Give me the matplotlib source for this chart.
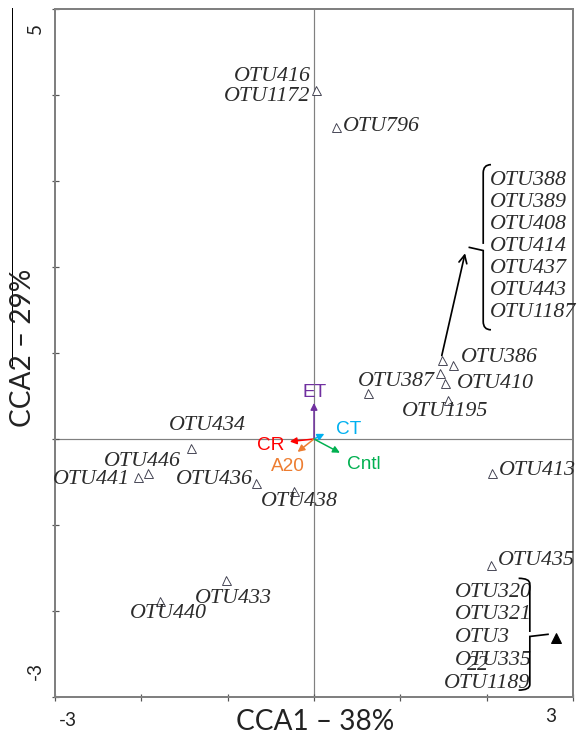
import numpy as np
import matplotlib
matplotlib.use("Agg")
import matplotlib.pyplot as plt
from matplotlib.path import Path
from matplotlib.patches import PathPatch

# species scores (open triangles)
otu_labels = ["OTU416\nOTU1172", "OTU796", "", "OTU386", "", "OTU410", "OTU1195",
              "OTU387", "OTU413", "OTU435", "OTU434", "OTU446", "OTU441",
              "OTU436", "OTU438", "OTU433", "OTU440"]
otu_x = [0.02, 0.25, 1.48, 1.61, 1.46, 1.52, 1.55, 0.63, 2.06, 2.05,
         -1.42, -1.92, -2.04, -0.67, -0.23, -1.02, -1.78]
otu_y = [4.06, 3.63, 0.92, 0.86, 0.77, 0.65, 0.45, 0.53, -0.40, -1.47,
         -0.10, -0.40, -0.44, -0.51, -0.60, -1.64, -1.88]

# grouped species (filled triangle)
group_x = [2.80]
group_y = [-2.31]
group_top = ["OTU388", "OTU389", "OTU408", "OTU414", "OTU437", "OTU443", "OTU1187"]
group_bottom = ["OTU320", "OTU321", "OTU3", "OTU335", "OTU1189"]

# environmental vectors
env_names = ["ET", "CT", "CR", "A20", "Cntl"]
env_x = [0.0, 0.12, -0.28, -0.19, 0.30]
env_y = [0.42, 0.06, -0.03, -0.15, -0.16]
env_colors = ["#7030A0", "#00B0F0", "#FF0000", "#ED7D31", "#00B050"]

# label offsets in points (layout only)
otu_off = [(-5, 3, "right"), (7, 0, "left"), None, (8, 8, "left"), None,
           (12, 0, "left"), (-3, -11, "center"), (28, 12, "center"),
           (7, 3, "left"), (7, 5, "left"), (16, 22, "center"), (-6, 12, "center"),
           (-8, -3, "right"), (-3, 3, "right"), (5, -11, "center"),
           (7, -18, "center"), (8, -13, "center")]
env_off = [(1, 10), (24, 4), (-19, -4), (-10, -15), (24, -12)]

DPI = 72
fig = plt.figure(figsize=(578 / DPI, 742 / DPI), dpi=DPI)
ax = fig.add_axes([55 / 578, 1 - 697 / 742, 518 / 578, 688 / 742])
ax.set_xlim(-3, 3)
ax.set_ylim(-3, 5)
ax.set_xticks(range(-3, 4))
ax.set_yticks(range(-3, 6))
ax.set_xticklabels([])
ax.set_yticklabels([])
ax.tick_params(direction="inout", length=7, width=1.2, color="#555555")
for s in ax.spines.values():
    s.set_color("#808080")
    s.set_linewidth(2)
ax.axhline(0, color="#808080", lw=1.2, zorder=1)
ax.axvline(0, color="#808080", lw=1.2, zorder=1)

serif = dict(family="Liberation Serif", style="italic", fontsize=22, color="#2b2b2b")

ax.plot(otu_x, otu_y, ls="none", marker="^", ms=9, mfc="white", mec="#3a3a4a",
        mew=0.9, zorder=3)
ax.plot(group_x, group_y, ls="none", marker="^", ms=10, mfc="black", mec="black", zorder=3)

for lab, x, y, off in zip(otu_labels, otu_x, otu_y, otu_off):
    if not lab:
        continue
    dx, dy, ha = off
    ax.annotate(lab, (x, y), xytext=(dx, dy), textcoords="offset points",
                ha=ha, va="center", linespacing=1.05, zorder=4, **serif)

for name, x, y, c, (dx, dy) in zip(env_names, env_x, env_y, env_colors, env_off):
    ax.annotate("", xy=(x, y), xytext=(0, 0),
                arrowprops=dict(arrowstyle="-|>", color=c, lw=1.5,
                                mutation_scale=14, shrinkA=0, shrinkB=0), zorder=5)
    ax.annotate(name, (x, y), xytext=(dx, dy), textcoords="offset points",
                ha="center", va="center", color=c, fontsize=19,
                family="Liberation Sans", zorder=5)

# arrow from the clustered points up to the bracket
ax.annotate("", xy=(1.75, 2.16), xytext=(1.48, 0.97),
            arrowprops=dict(arrowstyle="->", color="black", lw=1.7,
                            mutation_scale=20, shrinkA=0, shrinkB=0))


def brace(ax, x, y0, y1, tip, hook, lw=1.7):
    # x: spine position, tip: x of the middle point, hook: x of the end hooks
    ym = (y0 + y1) / 2
    verts = [(hook, y0), (x, y0), (x, y0 + 0.05 * (y1 - y0)),
             (x, ym - 0.02 * (y1 - y0)), (tip, ym),
             (x, ym + 0.02 * (y1 - y0)),
             (x, y1 - 0.05 * (y1 - y0)), (x, y1), (hook, y1)]
    codes = [Path.MOVETO, Path.CURVE3, Path.CURVE3, Path.LINETO, Path.LINETO,
             Path.MOVETO, Path.LINETO, Path.CURVE3, Path.CURVE3]
    ax.add_patch(PathPatch(Path(verts, codes), fill=False, lw=lw, color="black",
                           zorder=4))


brace(ax, 1.96, 1.27, 3.19, 1.79, 2.05)
ys = 3.01 - 0.256 * np.arange(len(group_top))
for lab, y in zip(group_top, ys):
    ax.text(2.04, y, lab, ha="left", va="center", **serif)

ys = -1.78 - 0.265 * np.arange(len(group_bottom))
for lab, y in zip(group_bottom, ys):
    ax.text(1.51 if lab == "OTU1189" else 1.63, y, lab, ha="left", va="center", **serif)
ax.text(1.77, -2.63, "22", ha="left", va="center", **serif)
brace(ax, 2.50, -2.92, -1.62, 2.72, 2.37)

# axis texts
sans = dict(family="Lato", color="#222222")
fig.text(315 / 578, 1 - 722 / 742, "CCA1 \u2013 38%", ha="center", va="center",
         fontsize=28, **sans)
fig.text(23 / 578, 1 - 348 / 742, "CCA2 \u2013 29%", ha="center", va="center",
         rotation=90, fontsize=28, **sans)
fig.text(68 / 578, 1 - 720 / 742, "-3", ha="center", va="center", fontsize=19, **sans)
fig.text(551 / 578, 1 - 717 / 742, "3", ha="center", va="center", fontsize=19, **sans)
fig.text(35 / 578, 1 - 28 / 742, "5", ha="center", va="center", rotation=90,
         fontsize=19, **sans)
fig.text(35 / 578, 1 - 671 / 742, "-3", ha="center", va="center", rotation=90,
         fontsize=19, **sans)
fig.add_artist(plt.Line2D([12 / 578, 12 / 578], [1 - 8 / 742, 1 - 365 / 742],
                          transform=fig.transFigure, color="black", lw=1))

fig.savefig("out.png", dpi=DPI)
